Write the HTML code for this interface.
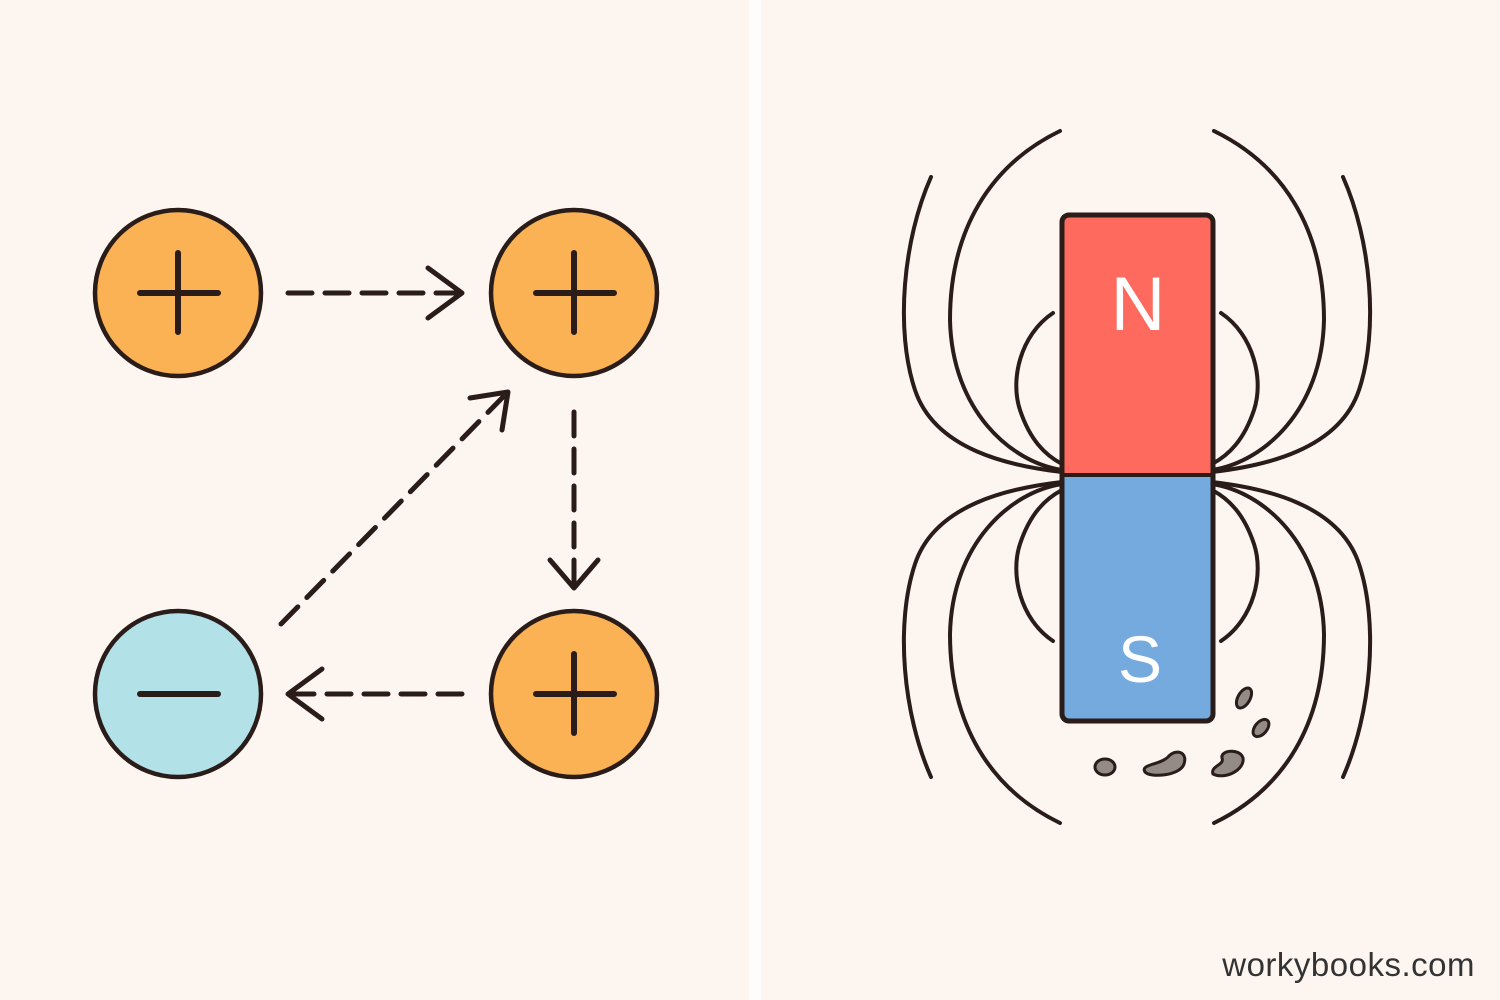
<!DOCTYPE html>
<html><head><meta charset="utf-8"><style>
html,body{margin:0;padding:0;background:#fdf5ef;}
svg{display:block}
</style></head><body>
<svg width="1500" height="1000" viewBox="0 0 1500 1000" xmlns="http://www.w3.org/2000/svg">
<rect width="1500" height="1000" fill="#fdf5ef"/>
<rect x="749" y="0" width="12" height="1000" fill="#fffdfb"/>
<g stroke="#2a1c18" stroke-width="4.5" fill="none" stroke-linecap="round" stroke-linejoin="round">
  <circle cx="178" cy="293" r="83" fill="#fbb254"/>
  <circle cx="574" cy="293" r="83" fill="#fbb254"/>
  <circle cx="178" cy="694" r="83" fill="#b2e2e8"/>
  <circle cx="574" cy="694" r="83" fill="#fbb254"/>
  <g stroke-width="6">
    <path d="M140 293H218M178 253V332"/>
    <path d="M536 293H614M574 253V332"/>
    <path d="M140 694H218"/>
    <path d="M536 694H614M574 654V733"/>
  </g>
  <g stroke-width="5" stroke-dasharray="24 13">
    <path d="M288 293H458"/>
    <path d="M574 412V584"/>
    <path d="M462 694H292"/>
    <path d="M281 624L503 397"/>
  </g>
  <g stroke-width="5">
    <path d="M428 268L462 293L428 318"/>
    <path d="M550 560L574 588L598 560"/>
    <path d="M322 669L288 694L322 719"/>
    <path d="M470 398L508 392L502 430"/>
  </g>
</g>
<g stroke="#2a1c18" stroke-width="4" fill="none" stroke-linecap="round">
  <g id="q">
    <path d="M931 177C903 240 895 330 915 390S1010 466 1062 472"/>
    <path d="M1060 131C990 165 950 230 950 320C952 410 1010 462 1062 470"/>
    <path d="M1053 313C1020 335 1010 380 1020 410C1030 440 1045 455 1062 464"/>
  </g>
  <use href="#q" transform="translate(0 954) scale(1 -1)"/>
  <use href="#q" transform="translate(2274 0) scale(-1 1)"/>
  <use href="#q" transform="translate(2274 954) scale(-1 -1)"/>
</g>
<rect x="1062" y="215" width="151" height="260" fill="#fe6b5e"/>
<rect x="1062" y="475" width="151" height="246" fill="#75aadf"/>
<rect x="1062" y="215" width="151" height="506" rx="7" fill="none" stroke="#2a1c18" stroke-width="5"/>
<path d="M1062 475H1213" stroke="#2a1c18" stroke-width="4"/>
<text x="1138" y="330" text-anchor="middle" font-family="Liberation Sans, sans-serif" font-size="76" fill="#fff">N</text>
<text x="1140" y="682" text-anchor="middle" font-family="Liberation Sans, sans-serif" font-size="66" fill="#fff">S</text>
<g fill="#948a86" stroke="#2a1c18" stroke-width="3">
  <ellipse cx="1105" cy="767" rx="10" ry="8"/>
  <path d="M1145 772C1140 764 1160 765 1168 757C1176 748 1188 752 1184 764C1180 776 1150 778 1145 772Z"/>
  <path d="M1213 774C1210 766 1225 765 1222 758C1220 750 1240 748 1243 758C1245 770 1225 780 1213 774Z"/>
  <ellipse cx="1244" cy="698" rx="6" ry="11" transform="rotate(30 1244 698)"/>
  <ellipse cx="1261" cy="728" rx="6" ry="10" transform="rotate(40 1261 728)"/>
</g>
<text x="1475" y="976" text-anchor="end" font-family="Liberation Sans, sans-serif" font-size="33" fill="#333" letter-spacing="0.5">workybooks.com</text>
</svg>
</body></html>
